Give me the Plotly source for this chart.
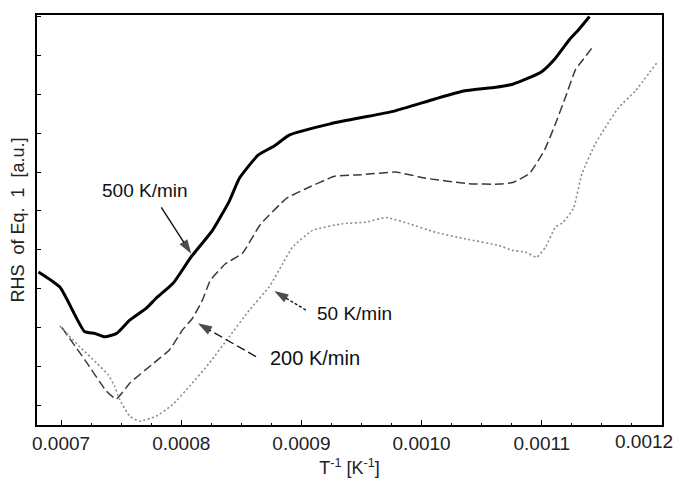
import plotly.graph_objects as go

# 500 K/min (solid)
x500 = [0.0006812, 0.000699, 0.0007195, 0.0007281, 0.0007364, 0.0007463, 0.0007571, 0.000771,
        0.0007793, 0.000793, 0.0008081, 0.000826, 0.0008401, 0.0008484, 0.0008642, 0.0008774,
        0.0008899, 0.0009239, 0.000948, 0.0009762, 0.0010111, 0.0010359, 0.0010617, 0.0010758,
        0.0010891, 0.0010999, 0.0011106, 0.0011231, 0.0011306, 0.0011397]
y500 = [3.43, 3.04, 1.90, 1.85, 1.76, 1.85, 2.19, 2.50,
        2.76, 3.13, 3.81, 4.50, 5.26, 5.84, 6.44, 6.67,
        6.95, 7.24, 7.39, 7.56, 7.88, 8.09, 8.18, 8.26,
        8.42, 8.58, 8.90, 9.41, 9.66, 10.00]

# 200 K/min (dashed)
x200 = [0.0007007, 0.0007198, 0.0007376, 0.0007459, 0.0007575, 0.0007754, 0.0007903, 0.0008011,
        0.0008094, 0.0008177, 0.0008243, 0.0008368, 0.0008509, 0.0008658, 0.0008878, 0.0009023,
        0.0009276, 0.0009496, 0.0009783, 0.0010036, 0.0010393, 0.001065, 0.0010758, 0.0010899,
        0.0011023, 0.0011112, 0.0011195, 0.0011281, 0.0011333, 0.0011426]
y200 = [2.00, 1.17, 0.37, 0.16, 0.58, 1.04, 1.43, 1.94,
        2.24, 2.71, 3.22, 3.64, 3.91, 4.65, 5.33, 5.55,
        5.89, 5.93, 6.00, 5.84, 5.70, 5.69, 5.73, 5.97,
        6.57, 7.23, 7.91, 8.64, 8.85, 9.23]

# 50 K/min (dotted)
x50 = [0.000699, 0.0007156, 0.0007295, 0.0007391, 0.0007446, 0.0007488, 0.0007571, 0.0007654,
       0.0007793, 0.000793, 0.0008069, 0.0008235, 0.0008401, 0.0008567, 0.0008733, 0.0008843,
       0.0008926, 0.0009092, 0.0009341, 0.0009535, 0.0009704, 0.0009895, 0.0010116, 0.0010365,
       0.0010642, 0.0010752, 0.0010863, 0.0010957, 0.0011032, 0.0011112, 0.0011176, 0.0011264,
       0.0011333, 0.0011444, 0.0011527, 0.0011637, 0.0011776, 0.0011955]
y50 = [2.04, 1.50, 1.09, 0.79, 0.49, 0.15, -0.28, -0.41,
       -0.28, 0.02, 0.49, 1.09, 1.77, 2.45, 3.05, 3.64,
       4.07, 4.50, 4.67, 4.71, 4.83, 4.67, 4.45, 4.28,
       4.11, 3.99, 3.94, 3.81, 4.07, 4.58, 4.70, 5.07,
       5.95, 6.72, 7.14, 7.65, 8.08, 8.80]

x_tickvals = [0.0007, 0.0008, 0.0009, 0.0010, 0.0011, 0.0012]
x_ticktext = ["0.0007", "0.0008", "0.0009", "0.0010", "0.0011", ""]
last_tick_label = "0.0012"
y_tickvals = [0, 1, 2, 3, 4, 5, 6, 7, 8, 9, 10]

# label positions and their arrows (tail -> tip)
labels = ["500 K/min", "50 K/min", "200 K/min"]
label_x = [0.00077, 0.0009441, 0.0009115]
label_y = [5.52, 2.36, 1.21]
arrow_x = [[0.0007834, 0.0008083], [0.0009037, 0.0008774], [0.0008622, 0.0008138]]
arrow_y = [[5.09, 3.90], [2.45, 2.94], [1.25, 2.11]]

FONT = "Liberation Sans, Arial, sans-serif"

fig = go.Figure()
fig.add_trace(go.Scatter(x=x500, y=y500, mode="lines", name="500 K/min",
                         line=dict(color="#000000", width=3, shape="spline", smoothing=0.5)))
fig.add_trace(go.Scatter(x=x200, y=y200, mode="lines", name="200 K/min",
                         line=dict(color="#3a3a3a", width=1.5, dash="9px,4px", shape="spline", smoothing=0.4)))
fig.add_trace(go.Scatter(x=x50, y=y50, mode="lines", name="50 K/min",
                         line=dict(color="#8a8a8a", width=1.6, dash="2px,2.5px", shape="spline", smoothing=0.4)))

arrow_dash = ["solid", "3px,2px", "9px,4px"]
for ax_, ay_, d in zip(arrow_x, arrow_y, arrow_dash):
    fig.add_trace(go.Scatter(
        x=ax_, y=ay_, mode="lines+markers", showlegend=False, hoverinfo="skip",
        line=dict(color="#111111", width=1.4, dash=d),
        marker=dict(symbol="arrow", size=[0, 15], angleref="previous", color="#000000",
                    line=dict(width=0)),
    ))

for t, lx, ly, fs in zip(labels, label_x, label_y, [19, 19, 20]):
    fig.add_annotation(x=lx, y=ly, xref="x", yref="y", text=t, showarrow=False,
                       font=dict(size=fs, color="#111111", family=FONT))

# last x tick label, shifted left to fit like the original
fig.add_annotation(x=x_tickvals[-1], y=0, xref="x", yref="paper", text=last_tick_label,
                   showarrow=False, xanchor="center", yanchor="middle", xshift=-18, yshift=-16,
                   font=dict(size=19, color="#222222", family=FONT))

fig.update_layout(
    width=683, height=484,
    margin=dict(l=29, r=28.5, t=5.3, b=66.5),
    paper_bgcolor="white", plot_bgcolor="white",
    showlegend=False,
    font=dict(family=FONT, color="#222222"),
    xaxis=dict(
        range=[0.00068, 0.0012], tickvals=x_tickvals, ticktext=x_ticktext,
        ticks="inside", ticklen=5, tickwidth=1.3, tickcolor="#000",
        minor=dict(dtick=0.000025, ticks="inside", ticklen=2.5, tickwidth=1, tickcolor="#000", showgrid=False),
        showline=True, linecolor="#000", linewidth=1.6, mirror=True,
        showgrid=False, zeroline=False,
        tickfont=dict(size=19, color="#222222", family=FONT),
        title=dict(text="T<sup>-1</sup> [K<sup>-1</sup>]", font=dict(size=18, color="#222222", family=FONT), standoff=9),
    ),
    yaxis=dict(
        range=[-0.507, 10.04], tickvals=y_tickvals, showticklabels=False,
        ticks="inside", ticklen=4, tickwidth=1.3, tickcolor="#000",
        showline=True, linecolor="#000", linewidth=1.6, mirror=True,
        showgrid=False, zeroline=False,
        title=dict(text="RHS\u00a0 of Eq.\u00a0 1\u00a0 [a.u.]", font=dict(size=18, color="#222222", family=FONT), standoff=8),
    ),
)

fig.write_html("out.html")
